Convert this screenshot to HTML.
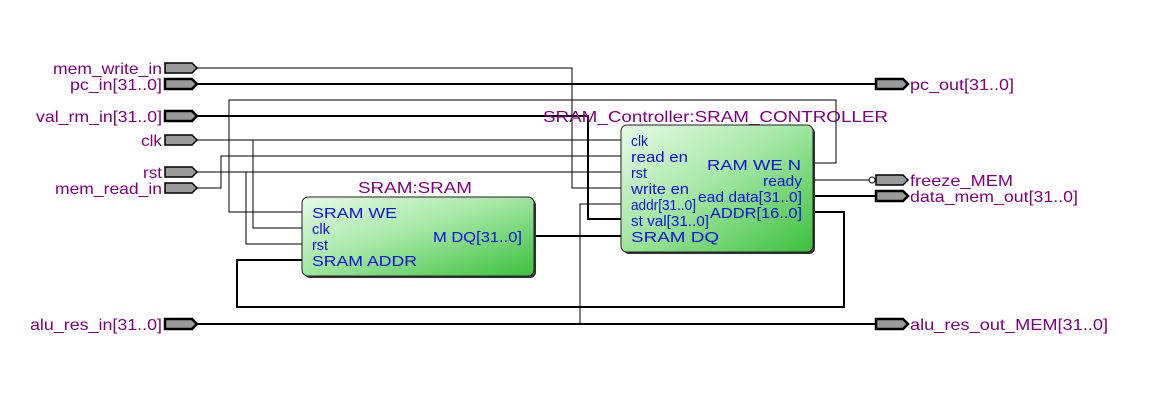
<!DOCTYPE html>
<html><head><meta charset="utf-8"><style>
html,body{margin:0;padding:0;background:#fff;width:1149px;height:408px;overflow:hidden}
svg text{font-family:"Liberation Sans",Arial,sans-serif}
</style></head><body>
<svg width="1149" height="408" viewBox="0 0 1149 408" xmlns="http://www.w3.org/2000/svg">
<defs>
<linearGradient id="g" x1="0" y1="0" x2="1" y2="1">
<stop offset="0" stop-color="#e6fae6"/><stop offset="0.45" stop-color="#a6e8a6"/><stop offset="1" stop-color="#3cc03c"/>
</linearGradient>
</defs>
<g fill="none" stroke="#000" stroke-width="1">
<polyline points="197,68 572,68 572,188 621,188"/>
<polyline points="302,212 229,212 229,100 836,100 836,163 813,163"/>
<polyline points="197,140 621,140"/>
<polyline points="253,140 253,228 302,228"/>
<polyline points="197,188 221,188 221,156 621,156"/>
<polyline points="197,172 621,172"/>
<polyline points="246,172 246,244 302,244"/>
<polyline points="813,180 869,180"/>
<polyline points="580,324 580,204 621,204"/>
</g>
<g fill="none" stroke="#000" stroke-width="2">
<polyline points="197,84 876,84"/>
<polyline points="197,116 588,116 588,219 621,219"/>
<polyline points="534,236 621,236"/>
<polyline points="302,260 237,260 237,307 844,307 844,212 813,212"/>
<polyline points="197,324 876,324"/>
<polyline points="813,196 876,196"/>
</g>
<circle cx="872" cy="180" r="3" fill="#fff" stroke="#000"/>
<g stroke="#000" fill="#9a9a9a">
<path d="M165,63 H192 L197,68 L192,73 H165 Z" stroke-width="1.5"/>
<path d="M165,79 H192 L197,84 L192,89 H165 Z" stroke-width="2.5"/>
<path d="M165,111 H192 L197,116 L192,121 H165 Z" stroke-width="2.5"/>
<path d="M165,135 H192 L197,140 L192,145 H165 Z" stroke-width="1.5"/>
<path d="M165,167 H192 L197,172 L192,177 H165 Z" stroke-width="1.5"/>
<path d="M165,183 H192 L197,188 L192,193 H165 Z" stroke-width="1.5"/>
<path d="M165,319 H192 L197,324 L192,329 H165 Z" stroke-width="2.5"/>
<path d="M876,79 H903 L908,84 L903,89 H876 Z" stroke-width="2.5"/>
<path d="M876,175 H903 L908,180 L903,185 H876 Z" stroke-width="1.5"/>
<path d="M876,191 H903 L908,196 L903,201 H876 Z" stroke-width="2.5"/>
<path d="M876,319 H903 L908,324 L903,329 H876 Z" stroke-width="2.5"/>
</g>
<g fill="#800080" font-size="16" lengthAdjust="spacingAndGlyphs">
<text x="53" y="74" textLength="109" lengthAdjust="spacingAndGlyphs">mem_write_in</text>
<text x="70" y="90" textLength="92" lengthAdjust="spacingAndGlyphs">pc_in[31..0]</text>
<text x="36" y="122" textLength="126" lengthAdjust="spacingAndGlyphs">val_rm_in[31..0]</text>
<text x="141" y="146" textLength="21" lengthAdjust="spacingAndGlyphs">clk</text>
<text x="143" y="178" textLength="19" lengthAdjust="spacingAndGlyphs">rst</text>
<text x="55" y="194" textLength="107" lengthAdjust="spacingAndGlyphs">mem_read_in</text>
<text x="30" y="330" textLength="132" lengthAdjust="spacingAndGlyphs">alu_res_in[31..0]</text>
<text x="910" y="90" textLength="104" lengthAdjust="spacingAndGlyphs">pc_out[31..0]</text>
<text x="910" y="186" textLength="103" lengthAdjust="spacingAndGlyphs">freeze_MEM</text>
<text x="910" y="202" textLength="168" lengthAdjust="spacingAndGlyphs">data_mem_out[31..0]</text>
<text x="910" y="330" textLength="198" lengthAdjust="spacingAndGlyphs">alu_res_out_MEM[31..0]</text>
<text x="358" y="193" textLength="114" lengthAdjust="spacingAndGlyphs">SRAM:SRAM</text>
<text x="543" y="122" textLength="345" lengthAdjust="spacingAndGlyphs">SRAM_Controller:SRAM_CONTROLLER</text>
</g>
<rect x="304" y="199" width="232" height="79" rx="6" fill="#333"/>
<rect x="302" y="197" width="232" height="79" rx="6" fill="url(#g)" stroke="#222" stroke-width="1"/>
<g fill="#1010e0" font-size="15">
<text x="312" y="218" textLength="85" lengthAdjust="spacingAndGlyphs">SRAM WE</text>
<text x="312" y="234" textLength="18" lengthAdjust="spacingAndGlyphs">clk</text>
<text x="312" y="250" textLength="16" lengthAdjust="spacingAndGlyphs">rst</text>
<text x="312" y="266" textLength="105" lengthAdjust="spacingAndGlyphs">SRAM ADDR</text>
<text x="433" y="242" textLength="89" lengthAdjust="spacingAndGlyphs">M DQ[31..0]</text>
</g>
<rect x="623" y="127" width="192" height="127" rx="6" fill="#333"/>
<rect x="621" y="125" width="192" height="127" rx="6" fill="url(#g)" stroke="#222" stroke-width="1"/>
<g fill="#1010e0" font-size="15">
<text x="631" y="146" textLength="17" lengthAdjust="spacingAndGlyphs">clk</text>
<text x="631" y="162" textLength="57" lengthAdjust="spacingAndGlyphs">read en</text>
<text x="631" y="178" textLength="16" lengthAdjust="spacingAndGlyphs">rst</text>
<text x="631" y="194" textLength="58" lengthAdjust="spacingAndGlyphs">write en</text>
<text x="631" y="210" textLength="65" lengthAdjust="spacingAndGlyphs">addr[31..0]</text>
<text x="631" y="226" textLength="78" lengthAdjust="spacingAndGlyphs">st val[31..0]</text>
<text x="631" y="242" textLength="88" lengthAdjust="spacingAndGlyphs">SRAM DQ</text>
<text x="707" y="170" textLength="94" lengthAdjust="spacingAndGlyphs">RAM WE N</text>
<text x="763" y="186" textLength="39" lengthAdjust="spacingAndGlyphs">ready</text>
<text x="698" y="202" textLength="104" lengthAdjust="spacingAndGlyphs">ead data[31..0]</text>
<text x="710" y="218" textLength="92" lengthAdjust="spacingAndGlyphs">ADDR[16..0]</text>
</g>
</svg>
</body></html>
